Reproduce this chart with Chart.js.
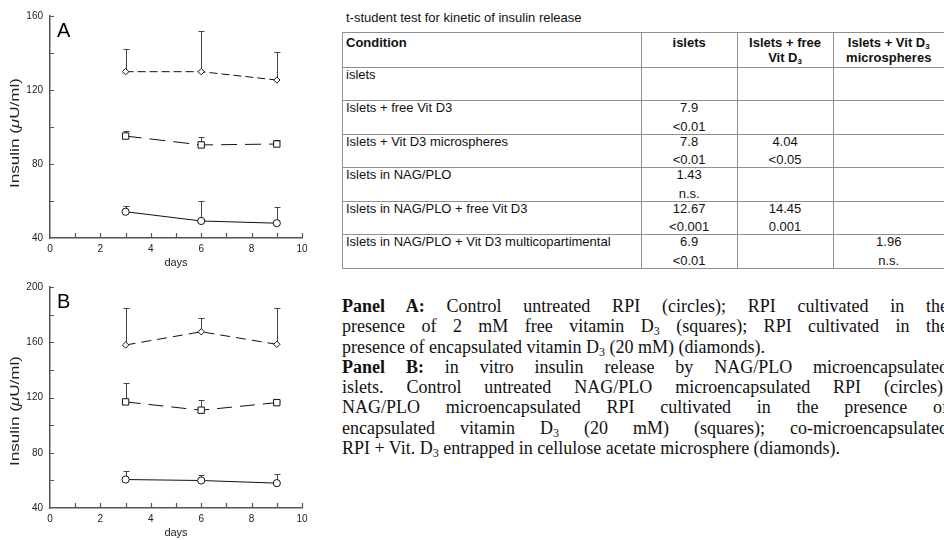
<!DOCTYPE html>
<html>
<head>
<meta charset="utf-8">
<script src="https://cdn.jsdelivr.net/npm/chart.js@4.4.1/dist/chart.umd.min.js"></script>
<style>
  html, body { margin: 0; padding: 0; background: #fff; }
  body { width: 944px; height: 540px; overflow: hidden; position: relative; font-family: "Liberation Sans", Arial, sans-serif; }
  canvas { position: absolute; left: 0; }
  #chartA { top: 0; }
  #chartB { top: 270px; }
  .caption { position: absolute; left: 346px; top: 10px; font-size: 13px; line-height: 16px; color: #111; }
  table { position: absolute; left: 342px; top: 32px; border-collapse: collapse; table-layout: fixed; font-size: 13px; color: #111; }
  td, th { border: 1px solid #909090; vertical-align: top; padding: 0 3px; }
  td:last-child, th:last-child { border-right: none; }
  tr { height: 33.5px; }
  tr.head { height: 34.7px; }
  th { font-weight: bold; }
  .h { line-height: 14.6px; padding-top: 3px; }
  .c { height: 30px; margin-top: -2px; line-height: 18.5px; }
  .left { text-align: left; }
  .num { text-align: center; }
  .h sub { font-size: 8px; line-height: 0; vertical-align: -2px; }
  tr.dark td { border-top: 1px solid #222; }
  .text { position: absolute; left: 342px; top: 296px; width: 606px; font-family: "Liberation Serif", "Times New Roman", serif; font-size: 18px; line-height: 20.3px; color: #111; }
  .text div { text-align: justify; text-align-last: justify; white-space: nowrap; }
  .text div.last { text-align-last: left; }
  .text sub { font-size: 12px; vertical-align: -3px; line-height: 0; }
</style>
</head>
<body>
<canvas id="chartA" width="320" height="270"></canvas>
<canvas id="chartB" width="320" height="270"></canvas>

<div class="caption">t-student test for kinetic of insulin release</div>
<table>
  <colgroup><col style="width:299px"><col style="width:96px"><col style="width:96px"><col style="width:111px"></colgroup>
  <tr class="head"><th class="left"><div class="h">Condition</div></th><th class="num"><div class="h">islets</div></th><th class="num"><div class="h">Islets + free<br>Vit D<sub>3</sub></div></th><th class="num"><div class="h">Islets + Vit D<sub>3</sub><br>microspheres</div></th></tr>
  <tr><td class="left"><div class="c">islets</div></td><td></td><td></td><td></td></tr>
  <tr><td class="left"><div class="c">Islets + free Vit D3</div></td><td class="num"><div class="c">7.9<br>&lt;0.01</div></td><td></td><td></td></tr>
  <tr><td class="left"><div class="c">Islets + Vit D3 microspheres</div></td><td class="num"><div class="c">7.8<br>&lt;0.01</div></td><td class="num"><div class="c">4.04<br>&lt;0.05</div></td><td></td></tr>
  <tr><td class="left"><div class="c">Islets in NAG/PLO</div></td><td class="num"><div class="c">1.43<br>n.s.</div></td><td></td><td></td></tr>
  <tr class="dark"><td class="left"><div class="c">Islets in NAG/PLO + free Vit D3</div></td><td class="num"><div class="c">12.67<br>&lt;0.001</div></td><td class="num"><div class="c">14.45<br>0.001</div></td><td></td></tr>
  <tr><td class="left"><div class="c">Islets in NAG/PLO + Vit D3 multicopartimental</div></td><td class="num"><div class="c">6.9<br>&lt;0.01</div></td><td></td><td class="num"><div class="c">1.96<br>n.s.</div></td></tr>
</table>

<div class="text">
  <div><b>Panel A:</b> Control untreated RPI (circles); RPI cultivated in the</div>
  <div>presence of 2 mM free vitamin D<sub>3</sub> (squares); RPI cultivated in the</div>
  <div class="last">presence of encapsulated vitamin D<sub>3</sub> (20 mM) (diamonds).</div>
  <div><b>Panel B:</b> in vitro insulin release by NAG/PLO microencapsulated</div>
  <div>islets. Control untreated NAG/PLO microencapsulated RPI (circles);</div>
  <div>NAG/PLO microencapsulated RPI cultivated in the presence of</div>
  <div>encapsulated vitamin D<sub>3</sub> (20 mM) (squares); co-microencapsulated</div>
  <div class="last">RPI + Vit. D<sub>3</sub> entrapped in cellulose acetate microsphere (diamonds).</div>
</div>

<script>
// days of sampling
const days = [3, 6, 9];

// Panel A - means and upper error (SD)
const aCircles = [54.2, 49.2, 48.0];
const aCirclesErr = [3.3, 10.6, 8.9];
const aSquares = [95.1, 90.3, 90.8];
const aSquaresErr = [2.9, 4.1, 2.2];
const aDiamonds = [129.9, 129.9, 125.4];
const aDiamondsErr = [12.1, 22.1, 15.0];

// Panel B
const bCircles = [60.6, 59.9, 58.0];
const bCirclesErr = [6.4, 4.2, 6.6];
const bSquares = [116.8, 110.8, 116.3];
const bSquaresErr = [13.6, 7.4, 1.0];
const bDiamonds = [158.0, 167.6, 158.5];
const bDiamondsErr = [27.0, 9.9, 26.5];

const xTicks = [0, 2, 4, 6, 8, 10];
const yTicksA = [40, 80, 120, 160];
const yTicksB = [40, 80, 120, 160, 200];

const axisColor = '#555';
const fontFam = '"Liberation Sans", Arial, sans-serif';

function pts(vals) {
    return vals.map((v, i) => ({ x: days[i], y: v }));
}

function series(vals, errs, style, radius, dash) {
    return {
        data: pts(vals),
        errors: errs,
        borderColor: '#111',
        borderWidth: 1,
        borderDash: dash,
        pointStyle: style,
        pointRadius: radius,
        pointBackgroundColor: '#fff',
        pointBorderColor: '#111',
        pointBorderWidth: 1,
        tension: 0
    };
}

// upward error bars with a small cap
const errorBars = {
    id: 'errorBars',
    beforeDatasetsDraw(chart) {
        const ctx = chart.ctx;
        const xs = chart.scales.x, ys = chart.scales.y;
        ctx.save();
        ctx.strokeStyle = '#444';
        ctx.lineWidth = 1;
        chart.data.datasets.forEach(ds => {
            ds.data.forEach((p, i) => {
                const x = Math.round(xs.getPixelForValue(p.x)) + 0.5;
                const y0 = ys.getPixelForValue(p.y);
                const y1 = Math.round(ys.getPixelForValue(p.y + ds.errors[i])) + 0.5;
                ctx.beginPath();
                ctx.moveTo(x, y0);
                ctx.lineTo(x, y1);
                ctx.moveTo(x - 3, y1);
                ctx.lineTo(x + 3, y1);
                ctx.stroke();
            });
        });
        ctx.restore();
    }
};

// inward ticks, panel letter and the y title (italic mu)
const axisExtras = {
    id: 'axisExtras',
    afterDraw(chart, args, opts) {
        const ctx = chart.ctx;
        const xs = chart.scales.x, ys = chart.scales.y;
        const area = chart.chartArea;
        ctx.save();
        ctx.strokeStyle = axisColor;
        ctx.lineWidth = 1.2;
        ctx.beginPath();
        for (let d = 1; d <= 10; d++) {
            const x = Math.round(xs.getPixelForValue(d)) + 0.5;
            ctx.moveTo(x, area.bottom);
            ctx.lineTo(x, area.bottom - 5);
        }
        for (let v = ys.min + 20; v <= ys.max; v += 20) {
            const y = Math.round(ys.getPixelForValue(v)) + 0.5;
            ctx.moveTo(area.left, y);
            ctx.lineTo(area.left + 4, y);
        }
        ctx.stroke();

        ctx.fillStyle = '#000';
        ctx.font = '20px ' + fontFam;
        ctx.textBaseline = 'alphabetic';
        ctx.fillText(opts.letter, area.left + 7, area.top + 21);

        // y title
        const parts = [['Insulin (', '13px ' + fontFam], ['\u03BC', 'italic 13px ' + fontFam], ['U/ml)', '13px ' + fontFam]];
        let w = 0;
        parts.forEach(p => { ctx.font = p[1]; w += ctx.measureText(p[0]).width; });
        ctx.translate(15, opts.titleY);
        ctx.rotate(-Math.PI / 2);
        ctx.scale(opts.titleLen / w, 1);
        ctx.fillStyle = '#222';
        ctx.textBaseline = 'middle';
        let x = -w / 2;
        parts.forEach(p => { ctx.font = p[1]; ctx.fillText(p[0], x, 0); x += ctx.measureText(p[0]).width; });
        ctx.restore();
    }
};

function makeChart(id, sets, yMax, yTicks, letter, topPad, titleY) {
    return new Chart(document.getElementById(id), {
        type: 'line',
        data: { datasets: sets },
        options: {
            responsive: false,
            animation: false,
            devicePixelRatio: 1,
            layout: { padding: { top: topPad, right: 18, left: 0, bottom: 0 } },
            plugins: {
                legend: { display: false },
                tooltip: { enabled: false },
                axisExtras: { letter: letter, titleY: titleY, titleLen: 110 }
            },
            scales: {
                x: {
                    type: 'linear',
                    min: 0, max: 10,
                    afterBuildTicks: s => { s.ticks = xTicks.map(v => ({ value: v })); },
                    grid: { display: false, drawTicks: false },
                    border: { display: true, color: axisColor, width: 1.5 },
                    ticks: { autoSkip: false, maxRotation: 0, padding: 5, color: '#222', font: { size: 10, family: fontFam } },
                    title: { display: true, text: 'days', color: '#222', padding: { top: -2, bottom: 0 }, font: { size: 11, family: fontFam } },
                    afterFit: s => { s.height = 32; }
                },
                y: {
                    min: 40, max: yMax,
                    afterBuildTicks: s => { s.ticks = yTicks.map(v => ({ value: v })); },
                    grid: { display: false, drawTicks: false },
                    border: { display: true, color: axisColor, width: 1.5 },
                    ticks: { autoSkip: false, padding: 7, color: '#222', font: { size: 10, family: fontFam } },
                    afterFit: s => { s.width = 50; }
                }
            }
        },
        plugins: [errorBars, axisExtras]
    });
}

makeChart('chartA', [
    series(aDiamonds, aDiamondsErr, 'rectRot', 3.2, [8, 4]),
    series(aSquares, aSquaresErr, 'rect', 4.5, [16, 8]),
    series(aCircles, aCirclesErr, 'circle', 3.6, [])
], 160, yTicksA, 'A', 16, 133);

makeChart('chartB', [
    series(bDiamonds, bDiamondsErr, 'rectRot', 3.2, [10, 6]),
    series(bSquares, bSquaresErr, 'rect', 4.5, [15, 8]),
    series(bCircles, bCirclesErr, 'circle', 3.6, [])
], 200, yTicksB, 'B', 17, 141);
</script>
</body>
</html>
